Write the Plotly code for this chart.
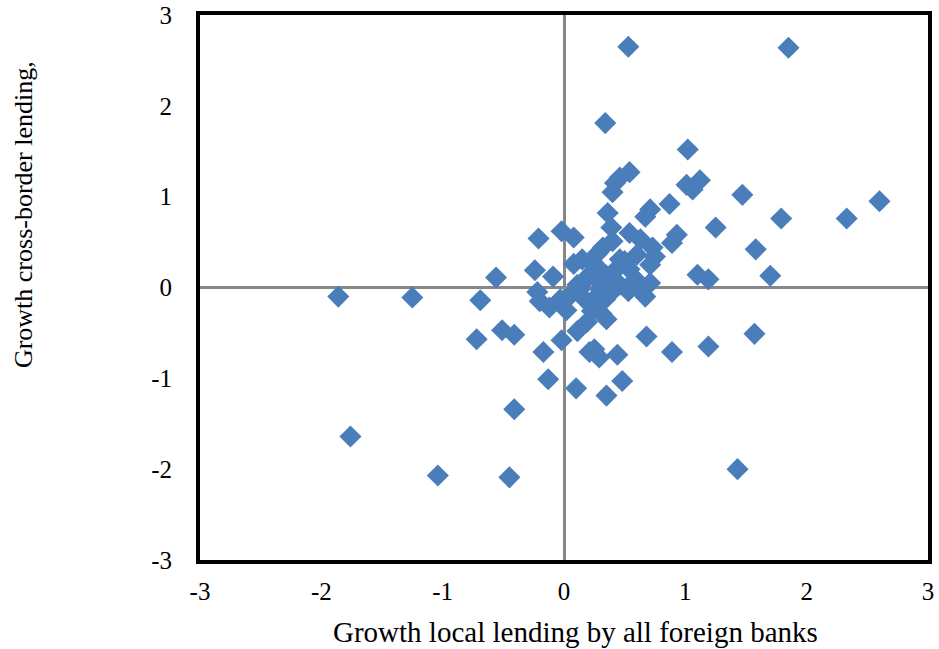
import plotly.graph_objects as go

# Growth of local lending by all foreign banks (x) vs growth of cross-border lending (y)
local_growth = [
    0.53, 1.85, 0.34, 1.02, 0.54, 0.46, 0.42, 0.40, 1.01, 1.12, 1.06, 1.47,
    0.87, 0.71, 0.67, 1.79, 2.33, 2.60, 1.25, 0.36, 0.39, 0.93, 0.89, 1.58,
    0.54, 0.63, 0.73, 0.75, 0.71, 0.60, 1.70, 1.10, 1.19, 0.71, -0.02, 0.08,
    -0.21, -0.24, -0.09, -0.56, -1.86, -1.25, -0.69, -0.51, -0.41, -0.72, -0.17, -0.02,
    -0.13, -0.41, 0.10, -1.76, -1.04, -0.45, 1.43, 0.35, 0.48, 0.44, 0.21, 0.29,
    0.25, 0.68, 0.89, 1.19, 1.57, 0.11, 0.23, 0.35, 0.19, -0.22, -0.20, -0.12,
    -0.03, 0.02, 0.05, 0.13, 0.17, 0.21, 0.28, 0.23, 0.15, 0.08, 0.32, 0.40,
    0.28, 0.35, 0.43, 0.50, 0.54, 0.46, 0.53, 0.63, 0.67, 0.30, 0.26, 0.34,
    0.40, 0.17, 0.23, 0.30, 0.11, 0.40, 0.59, 0.31, 0.46, 0.26,
]
cross_border_growth = [
    2.65, 2.64, 1.81, 1.52, 1.27, 1.21, 1.15, 1.05, 1.13, 1.18, 1.08, 1.02,
    0.92, 0.86, 0.78, 0.76, 0.76, 0.95, 0.66, 0.82, 0.66, 0.58, 0.49, 0.42,
    0.60, 0.53, 0.44, 0.34, 0.25, 0.36, 0.13, 0.14, 0.09, 0.05, 0.62, 0.55,
    0.54, 0.19, 0.12, 0.11, -0.10, -0.11, -0.14, -0.47, -0.52, -0.57, -0.71, -0.58,
    -1.01, -1.34, -1.11, -1.64, -2.07, -2.09, -2.00, -1.19, -1.03, -0.74, -0.71, -0.77,
    -0.68, -0.54, -0.71, -0.65, -0.51, -0.48, -0.26, -0.35, -0.38, -0.05, -0.15, -0.22,
    -0.13, -0.25, -0.09, -0.02, 0.07, 0.14, 0.22, 0.29, 0.31, 0.26, 0.44, 0.51,
    0.38, 0.13, 0.20, 0.29, 0.20, 0.03, -0.04, -0.02, -0.10, -0.02, -0.11, -0.13,
    -0.04, -0.13, -0.19, 0.05, 0.03, 0.09, 0.09, -0.29, 0.31, 0.22,
]

tick_vals = [-3, -2, -1, 0, 1, 2, 3]
tick_text = ["-3", "-2", "-1", "0", "1", "2", "3"]

serif = "Liberation Serif, Times New Roman, serif"

fig = go.Figure(
    go.Scatter(
        x=local_growth,
        y=cross_border_growth,
        mode="markers",
        marker=dict(symbol="diamond", size=17, color="#4a7ebb",
                    line=dict(width=0)),
        hoverinfo="x+y",
    )
)

axis_common = dict(
    range=[-3, 3],
    tickvals=tick_vals,
    ticktext=tick_text,
    showgrid=False,
    zeroline=True,
    zerolinecolor="#878787",
    zerolinewidth=3,
    showline=True,
    linecolor="black",
    linewidth=4,
    mirror=True,
    ticks="outside",
    tickcolor="rgba(0,0,0,0)",
    tickfont=dict(family=serif, size=25, color="black"),
    automargin=False,
)

fig.update_layout(
    width=939,
    height=649,
    margin=dict(l=200, r=11, t=15, b=89),
    paper_bgcolor="white",
    plot_bgcolor="white",
    showlegend=False,
    xaxis=dict(**axis_common, ticklen=6),
    yaxis=dict(**axis_common, ticklen=19),
    annotations=[
        dict(
            text="Growth local lending by all foreign banks",
            xref="paper", yref="paper",
            x=0.516, y=-0.132,
            xanchor="center", yanchor="middle",
            showarrow=False,
            font=dict(family=serif, size=29, color="black"),
        ),
        dict(
            text="Growth cross-border lending,",
            xref="paper", yref="paper",
            x=-0.243, y=0.633,
            xanchor="center", yanchor="middle",
            textangle=-90,
            showarrow=False,
            font=dict(family=serif, size=26, color="black"),
        ),
    ],
)

fig.write_html("out.html")
